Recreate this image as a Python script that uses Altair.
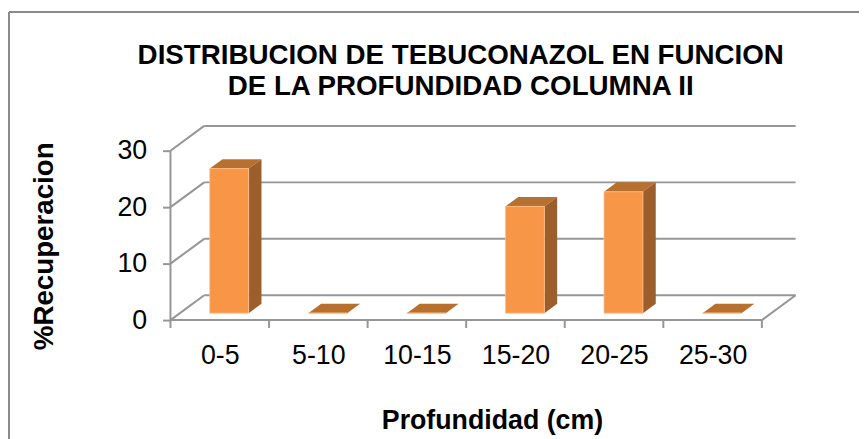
import altair as alt
import pandas as pd

# ---- data ----
categories = ["0-5", "5-10", "10-15", "15-20", "20-25", "25-30"]
values = [25.6, 0.0, 0.0, 18.9, 21.5, 0.0]
y_ticks = [0, 10, 20, 30]
title_lines = ["DISTRIBUCION DE TEBUCONAZOL EN FUNCION", "DE LA PROFUNDIDAD COLUMNA II"]
x_title = "Profundidad (cm)"
y_title = "%Recuperacion"

# ---- oblique 3-D projection parameters (style) ----
DX = 0.342   # depth shift in category units
DY = 4.39    # depth shift in value units
BW = 0.395   # bar width (category units)
F1 = 0.28    # bar front plane (fraction of depth)
F2 = 0.66    # bar back plane
TICK = 1.4   # x tick length (value units)

N = len(categories)
YMAX = max(y_ticks)
FONT = "Liberation Sans"
GRID = "#969696"
FRONT = "#F79646"
TOP = "#B8702F"
SIDE = "#9C5E2A"

xs = alt.Scale(domain=[0, N + DX], nice=False, zero=False)
ys = alt.Scale(domain=[0, YMAX + DY], nice=False, zero=False)

label_expr = "[" + ",".join("'%s'" % c for c in categories) + "][floor(datum.value)]"
x_axis = alt.Axis(values=[i + 0.5 for i in range(N)], labelExpr=label_expr, ticks=False,
                  tickSize=0, domain=False, grid=False, labelFont=FONT, labelFontSize=27,
                  labelColor="black", labelPadding=44, labelBaseline="alphabetic",
                  title=x_title, titleFont=FONT, titleFontSize=27, titleFontWeight="bold",
                  titleColor="black", titleX=324.5, titleY=109, titleAlign="center",
                  titleBaseline="alphabetic", labelFlush=False, labelOverlap=False)
y_axis = alt.Axis(values=y_ticks, domain=False, grid=False, ticks=True, tickSize=8,
                  tickColor=GRID, tickWidth=2, labelFont=FONT, labelFontSize=27,
                  labelColor="black", labelPadding=16, title=y_title, titleFont=FONT,
                  titleFontSize=28, titleFontWeight="bold", titleColor="black",
                  titleAngle=270, titleX=-119, titleY=121, titleAlign="center",
                  titleBaseline="alphabetic", labelFlush=False)

# ---- frame lines of the 3-D box ----
segs = []
for v in y_ticks:
    segs.append(dict(x=DX, y=v + DY, x2=N + DX, y2=v + DY))   # back wall
    segs.append(dict(x=0, y=v, x2=DX, y2=v + DY))             # left wall
segs.append(dict(x=0, y=0, x2=N, y2=0))                       # front floor edge
segs.append(dict(x=N, y=0, x2=N + DX, y2=DY))                 # right floor edge
segs.append(dict(x=0, y=0, x2=0, y2=YMAX))                    # front value axis
for i in range(N + 1):
    segs.append(dict(x=i, y=0, x2=i, y2=-TICK))               # category ticks
seg_df = pd.DataFrame(segs)

rules = alt.Chart(seg_df).mark_rule(color=GRID, strokeWidth=2).encode(
    x=alt.X("x:Q", scale=xs, axis=x_axis), x2="x2:Q",
    y=alt.Y("y:Q", scale=ys, axis=y_axis), y2="y2:Q")

# ---- bar faces ----
front_rows, top_rows, side_rows = [], [], []
s = (F2 - F1) * DX
for i, (c, v) in enumerate(zip(categories, values)):
    xl = i + 0.5 - BW / 2 + F1 * DX
    xr = xl + BW
    front_rows.append(dict(cat=c, x=xl, x2=xr, y=F1 * DY, y2=v + F1 * DY))
    top_rows.append(dict(cat=c, yy=v + F1 * DY, xa=xl, xb=xr))
    top_rows.append(dict(cat=c, yy=v + F2 * DY, xa=xl + s, xb=xr + s))
    side_rows.append(dict(cat=c, xx=xr, ya=F1 * DY, yb=v + F1 * DY))
    side_rows.append(dict(cat=c, xx=xr + s, ya=F2 * DY, yb=v + F2 * DY))

top = alt.Chart(pd.DataFrame(top_rows)).mark_area(orient="horizontal", color=TOP).encode(
    y=alt.Y("yy:Q", scale=ys, axis=y_axis), x=alt.X("xa:Q", scale=xs, axis=x_axis),
    x2="xb:Q", detail="cat:N")
side = alt.Chart(pd.DataFrame(side_rows)).mark_area(orient="vertical", color=SIDE).encode(
    x=alt.X("xx:Q", scale=xs, axis=x_axis), y=alt.Y("ya:Q", scale=ys, axis=y_axis),
    y2="yb:Q", detail="cat:N")
front = alt.Chart(pd.DataFrame(front_rows)).mark_rect(color=FRONT, stroke="#FBC291",
                                                      strokeWidth=0.8).encode(
    x=alt.X("x:Q", scale=xs, axis=x_axis), x2="x2:Q",
    y=alt.Y("y:Q", scale=ys, axis=y_axis), y2="y2:Q")

# ---- chart title and outer frame ----
one = pd.DataFrame({"k": [0]})
title = alt.Chart(one).mark_text(font=FONT, fontSize=28, fontWeight="bold", color="black",
                                 align="center", baseline="alphabetic", lineHeight=31).encode(
    x=alt.value(293), y=alt.value(-62), text=alt.value(title_lines))
frame_top = alt.Chart(one).mark_rule(color="#8A8A8A", strokeWidth=2).encode(
    x=alt.value(-163), x2=alt.value(720), y=alt.value(-115))
frame_left = alt.Chart(one).mark_rule(color="#8A8A8A", strokeWidth=2).encode(
    x=alt.value(-163), y=alt.value(-115), y2=alt.value(330))

chart = alt.layer(rules, top, side, front, title, frame_top, frame_left).properties(
    width=631, height=196,
    autosize=alt.AutoSizeParams(type="none"),
    padding={"left": 164, "top": 117, "right": 64, "bottom": 118},
    background="white",
).configure_view(strokeWidth=0)

chart.save("out.html", embed_options={"renderer": "svg", "actions": False})
